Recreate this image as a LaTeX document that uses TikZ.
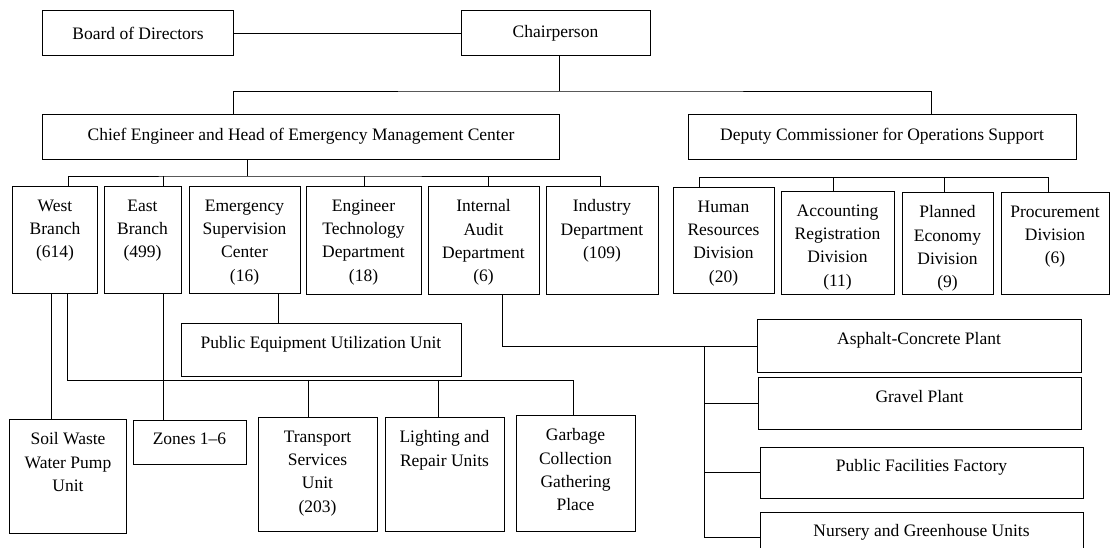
\documentclass[tikz,border=0pt]{standalone}
\usepackage{fontspec}
\setmainfont{Liberation Serif}
\usepackage{tikz}
\newcommand{\unitfont}{\fontsize{17.5bp}{23.3bp}\selectfont}
\tikzset{
  unit/.style 2 args={draw, line width=1bp, minimum width=#1bp, minimum height=#2bp,
    inner sep=0pt, font=\unitfont},
  top/.style={label={[lbl]north:#1}},
  lbl/.style={anchor=north, align=center, inner sep=0pt, yshift=-13bp, font=\unitfont},
  link/.style={line width=0.9bp},
}

\begin{document}
\begin{tikzpicture}[x=1bp,y=-1bp]
  \useasboundingbox (0,0) rectangle (1110,548);
  % head
  \node[unit={190}{45}] (bd) at (138,33.5) {Board of Directors};
  \node[unit={189}{45}] (ch) at (555.5,33.5) {Chairperson};
  \node[unit={516}{45}, top={Chief Engineer and Head of Emergency Management Center}] (ce) at (301,137.5) {};
  \node[unit={388}{45}, top={Deputy Commissioner for Operations Support}] (dc) at (882,137.5) {};
  % departments
  \node[unit={85}{107}, top={West\\Branch\\(614)}] (wb) at (55,240.5) {};
  \node[unit={77}{107}, top={East\\Branch\\(499)}] (eb) at (142.5,240.5) {};
  \node[unit={111}{107}, top={Emergency\\Supervision\\Center\\(16)}] (es) at (244.5,240.5) {};
  \node[unit={115}{108}, top={Engineer\\Technology\\Department\\(18)}] (et) at (363.5,241) {};
  \node[unit={111}{108}, top={Internal\\Audit\\Department\\(6)}] (ia) at (483.5,241) {};
  \node[unit={112}{108}, top={Industry\\Department\\(109)}] (ind) at (602,241) {};
  \node[unit={101}{106}, top={Human\\Resources\\Division\\(20)}] (hr) at (723.5,241) {};
  \node[unit={113}{103}, top={Accounting\\Registration\\Division\\(11)}] (ac) at (837.5,243.5) {};
  \node[unit={91}{102}, top={Planned\\Economy\\Division\\(9)}] (pe) at (947.5,244) {};
  \node[unit={108}{102}, top={Procurement\\Division\\(6)}] (pr) at (1055,244) {};
  % units
  \node[unit={280}{52}, top={Public Equipment Utilization Unit}] (peu) at (321,350) {};
  \node[unit={324}{52}, top={Asphalt-Concrete Plant}] (asp) at (919,346) {};
  \node[unit={323}{51}, top={Gravel Plant}] (grv) at (919.5,403.5) {};
  \node[unit={323}{51}, top={Public Facilities Factory}] (pff) at (921.5,472.5) {};
  \node[unit={323}{51}, top={Nursery and Greenhouse Units}] (nur) at (921.5,537.5) {};
  \node[unit={116}{113}, top={Soil Waste\\Water Pump\\Unit}] (soil) at (68,476.5) {};
  \node[unit={113}{44}, top={Zones 1–6}] (zon) at (189.5,442) {};
  \node[unit={119}{113}, top={Transport\\Services\\Unit\\(203)}] (tsu) at (317.5,474.5) {};
  \node[unit={119}{113}, top={Lighting and\\Repair Units}] (lru) at (444.5,474.5) {};
  \node[unit={119}{115}, top={Garbage\\Collection\\Gathering\\Place}] (gar) at (575.5,473.5) {};

  % connectors
  \draw[link] (bd) -- (ch);
  \coordinate (j0) at (559,91);
  \draw[link] (ch.south -| j0) -- (j0);
  \draw[link] (ce.north -| 233,0) |- (j0) -| (dc.north -| 931,0);
  \coordinate (j1) at (247,176);
  \draw[link] (ce.south -| j1) -- (j1);
  \draw[link] (wb.north -| 68,0) |- (j1) -| (ind.north -| 600,0);
  \foreach \n/\x in {eb/163, et/364, ia/488}
    \draw[link] (\n.north -| \x,0) -- (\x,176);
  \draw[link] (hr.north -| 699,0) |- (1048,177) -- (pr.north -| 1048,0);
  \foreach \n/\x in {ac/833, pe/944}
    \draw[link] (\n.north -| \x,0) -- (\x,177);
  \draw[link] (es.south -| 278,0) -- (peu.north -| 278,0);
  \coordinate (j2) at (asp.west -| 704,0);
  \draw[link] (ia.south -| 502,0) |- (asp.west);
  \draw[link] (j2) |- (nur.west);
  \draw[link] (grv.west -| j2) -- (grv.west);
  \draw[link] (pff.west -| j2) -- (pff.west);
  \draw[link] (wb.south -| 51,0) -- (soil.north -| 51,0);
  \draw[link] (wb.south -| 67,0) |- (573,380) -- (gar.north -| 573,0);
  \foreach \n/\x in {tsu/308, lru/438}
    \draw[link] (\x,380) -- (\n.north -| \x,0);
  \draw[link] (eb.south -| 163,0) -- (zon.north -| 163,0);
\end{tikzpicture}
\end{document}
